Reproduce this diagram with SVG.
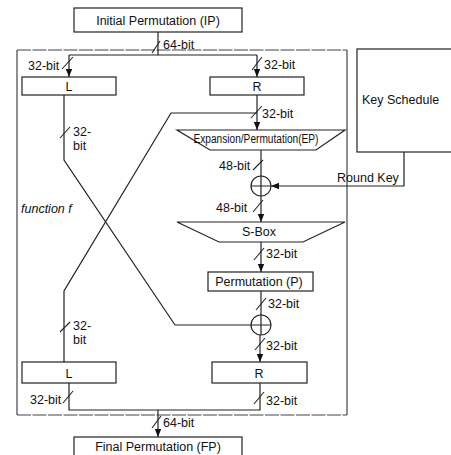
<svg xmlns="http://www.w3.org/2000/svg" width="451" height="455" viewBox="0 0 451 455">
<style>
  .box{fill:#fff;stroke:#222;stroke-width:1.2}
  .ln{fill:none;stroke:#222;stroke-width:1.2}
  .sl{stroke:#222;stroke-width:1.1}
  .t{font-family:"Liberation Sans",Arial,sans-serif;font-size:12.5px;fill:#111}
  .c{text-anchor:middle}
  .outer{fill:none;stroke:#444;stroke-width:1.2}
</style>
<defs>
  <marker id="ah" viewBox="0 0 8 8" refX="8" refY="4" markerWidth="8" markerHeight="8" markerUnits="userSpaceOnUse" orient="auto">
    <path d="M0,0.8 L8,4 L0,7.2 Z" fill="#111"/>
  </marker>
</defs>
<rect width="451" height="455" fill="#fff"/>

<!-- outer function box -->
<g id="round-frame">
  <path class="outer" d="M17,50 H347" stroke-dasharray="14,1.5"/>
  <path class="outer" d="M17,415 H347" stroke-dasharray="14,1.5"/>
  <path class="outer" d="M17,50 V415 M347,50 V415"/>
  <text class="t" x="21" y="213" font-style="italic" font-size="12px">function f</text>
</g>

<g id="connectors">
  <path class="ln" d="M158,32 V55"/>
  <path class="ln" d="M69,55 H257"/>
  <path class="ln" d="M69,55 V77" marker-end="url(#ah)"/>
  <path class="ln" d="M257,55 V77" marker-end="url(#ah)"/>
  <path class="ln" d="M64,95 V160 L175,325 H251"/>
  <path class="ln" d="M257,95 V130" marker-end="url(#ah)"/>
  <path class="ln" d="M257,113 H171 L64,291 V362"/>
  <path class="ln" d="M261,150 V176"/>
  <path class="ln" d="M261,196 V222" marker-end="url(#ah)"/>
  <path class="ln" d="M404,152 V186 H271" marker-end="url(#ah)"/>
  <path class="ln" d="M261,242 V272" marker-end="url(#ah)"/>
  <path class="ln" d="M261,291 V315"/>
  <path class="ln" d="M260,335 V362" marker-end="url(#ah)"/>
  <path class="ln" d="M69,383 V410 H260 V383"/>
  <path class="ln" d="M158,410 V437" marker-end="url(#ah)"/>
  <!-- bit-width slashes -->
  <path class="sl" d="M152,53 L160,41"/>
  <path class="sl" d="M62,69 L73,57"/>
  <path class="sl" d="M252,70 L262,57"/>
  <path class="sl" d="M251,118 L262,106"/>
  <path class="sl" d="M60,138 L70,127"/>
  <path class="sl" d="M253,170 L263,160"/>
  <path class="sl" d="M253,212 L263,200"/>
  <path class="sl" d="M254,260 L264,248"/>
  <path class="sl" d="M256,310 L266,298"/>
  <path class="sl" d="M255,350 L265,338"/>
  <path class="sl" d="M60,332 L70,322"/>
  <path class="sl" d="M63,403 L73,391"/>
  <path class="sl" d="M254,404 L264,392"/>
  <path class="sl" d="M152,428 L161,416"/>
  <!-- labels -->
  <text class="t" x="163" y="49">64-bit</text>
  <text class="t" x="28" y="70">32-bit</text>
  <text class="t" x="264" y="69">32-bit</text>
  <text class="t" x="262" y="118">32-bit</text>
  <text class="t" x="73" y="136">32-</text>
  <text class="t" x="73" y="150">bit</text>
  <text class="t" x="219" y="170">48-bit</text>
  <text class="t" x="337" y="182">Round Key</text>
  <text class="t" x="216" y="212">48-bit</text>
  <text class="t" x="266" y="258">32-bit</text>
  <text class="t" x="268" y="308">32-bit</text>
  <text class="t" x="73" y="330">32-</text>
  <text class="t" x="73" y="344">bit</text>
  <text class="t" x="266" y="350">32-bit</text>
  <text class="t" x="30" y="404">32-bit</text>
  <text class="t" x="266" y="405">32-bit</text>
  <text class="t" x="163" y="427">64-bit</text>
</g>

<g id="ip">
  <rect class="box" x="74" y="8" width="168" height="24"/>
  <text class="t c" x="158" y="25">Initial Permutation (IP)</text>
</g>
<g id="l-top">
  <rect class="box" x="22" y="77" width="94" height="18"/>
  <text class="t c" x="69" y="91">L</text>
</g>
<g id="r-top">
  <rect class="box" x="210" y="77" width="94" height="18"/>
  <text class="t c" x="257" y="91">R</text>
</g>
<g id="key-schedule">
  <rect class="box" x="357" y="49" width="100" height="103"/>
  <text class="t" x="362" y="104" font-size="13px">Key Schedule</text>
</g>
<g id="ep">
  <path class="box" d="M177,130 H345 L316,150 H210 Z"/>
  <text class="t c" x="256" y="143" font-size="10.5px" textLength="125" lengthAdjust="spacingAndGlyphs">Expansion/Permutation(EP)</text>
</g>
<g id="xor1">
  <circle class="ln" cx="261" cy="186" r="10"/>
  <path class="ln" d="M251,186 H271 M261,176 V196"/>
</g>
<g id="sbox">
  <path class="box" d="M177,222 H345 L303,242 H219 Z"/>
  <text class="t c" x="259" y="236">S-Box</text>
</g>
<g id="perm-p">
  <rect class="box" x="208" y="272" width="105" height="19"/>
  <text class="t c" x="259" y="286">Permutation (P)</text>
</g>
<g id="xor2">
  <circle class="ln" cx="261" cy="325" r="10"/>
  <path class="ln" d="M251,325 H271 M261,315 V335"/>
</g>
<g id="l-bottom">
  <rect class="box" x="22" y="362" width="94" height="21"/>
  <text class="t c" x="69" y="378">L</text>
</g>
<g id="r-bottom">
  <rect class="box" x="212" y="362" width="95" height="21"/>
  <text class="t c" x="259" y="378">R</text>
</g>
<g id="fp">
  <rect class="box" x="74" y="437" width="168" height="24"/>
  <text class="t c" x="158" y="451">Final Permutation (FP)</text>
</g>
</svg>
